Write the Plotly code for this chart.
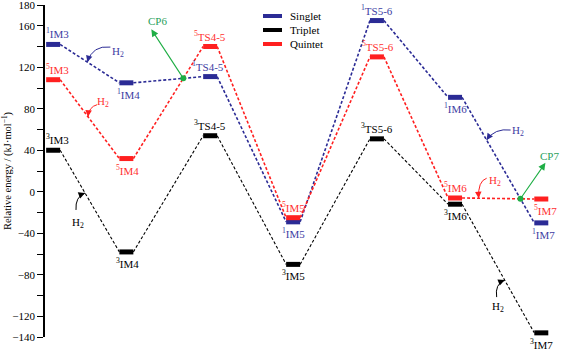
import plotly.graph_objects as go
import numpy as np

# ---------------- data ----------------
stages = ["IM3", "IM4", "TS4-5", "IM5", "TS5-6", "IM6", "IM7"]
stage_x = [0.0, 0.9, 1.93, 2.95, 3.98, 4.94, 6.0]   # reaction coordinate positions
singlet = [142, 105, 111, -29, 165, 91, -30]
triplet = [40, -58, 54, -70, 51, -12, -136]
quintet = [108, 32, 140, -25, 130, -6, -7]
y_labels = [180, 160, 120, 80, 40, 0, -40, -80, -120, -140]

# ---------------- layout geometry ----------------
W, H = 564, 349
ML, MR, MT, MB = 45, 4, 5, 12
XR = [-0.1, 6.23]
YR = [-140, 180]
PW, PH = W - ML - MR, H - MT - MB
PX = PW / (XR[1] - XR[0])   # px per x unit
PY = PH / (YR[1] - YR[0])   # px per y unit
HW = 7 / PX                 # bar half width

BLUE = "#2b2b95"
BLUE_T = "#3d3da3"
RED = "#ff2020"
RED_T = "#ff3030"
BLACK = "#000000"
GREEN = "#1fae45"
GREEN_T = "#2a9f5c"
FONT = "Liberation Serif"

series = [
    ("Singlet", singlet, BLUE, BLUE_T, 1, 1.6),
    ("Triplet", triplet, BLACK, BLACK, 3, 1.1),
    ("Quintet", quintet, RED, RED_T, 5, 1.6),
]

fig = go.Figure()


def off(x, y, dxp, dyp):
    return x + dxp / PX, y - dyp / PY


def seg_point(vals, i, t):
    x0, y0 = stage_x[i] + HW, vals[i]
    x1, y1 = stage_x[i + 1] - HW, vals[i + 1]
    return x0 + (x1 - x0) * t, y0 + (y1 - y0) * t


def intersect(va, vb, i):
    xa0, ya0 = stage_x[i] + HW, va[i]
    xa1, ya1 = stage_x[i + 1] - HW, va[i + 1]
    yb0, yb1 = vb[i], vb[i + 1]
    d = (ya1 - ya0) - (yb1 - yb0)
    t = (yb0 - ya0) / d
    return xa0 + (xa1 - xa0) * t, ya0 + (ya1 - ya0) * t


for name, vals, col, tcol, mult, lw in series:
    cx, cy = [], []
    for i in range(len(vals) - 1):
        cx += [stage_x[i] + HW, stage_x[i + 1] - HW, None]
        cy += [vals[i], vals[i + 1], None]
    fig.add_trace(go.Scatter(x=cx, y=cy, mode="lines",
                             line=dict(color=col, width=lw, dash="3px,2px"),
                             hoverinfo="skip", showlegend=False))
    bx, by = [], []
    for xs, v in zip(stage_x, vals):
        bx += [xs - HW, xs + HW, None]
        by += [v, v, None]
    fig.add_trace(go.Scatter(x=bx, y=by, mode="lines",
                             line=dict(color=col, width=5),
                             hoverinfo="skip", showlegend=False))

# ---------------- level labels ----------------
label_pos = {
    1: ["above", "below", "above", "below", "above", "below", "below"],
    3: ["above", "below", "above", "below", "above", "below", "below"],
    5: ["above", "below", "above", "above", "above", "above", "below"],
}
label_dx = {
    1: [4, 2, -2, 0, 0, 0, 2],
    3: [4, 1, 0, 0, 0, 0, 0],
    5: [4, 1, 0, 0, 1, 0, 4],
}
for name, vals, col, tcol, mult, lw in series:
    for i, (st, v) in enumerate(zip(stages, vals)):
        pos = label_pos[mult][i]
        fig.add_annotation(
            x=stage_x[i], y=v, xref="x", yref="y",
            text=f"<sup>{mult}</sup>{st}", showarrow=False,
            font=dict(family=FONT, size=11, color=tcol),
            xanchor="center", yanchor="bottom" if pos == "above" else "top",
            yshift=2 if pos == "above" else -2, xshift=label_dx[mult][i])

# ---------------- H2 curved arrows ----------------
h2 = [
    (singlet, 0, 0.46, (23, -15), (5, -17), (31, -10), BLUE, BLUE_T),
    (quintet, 0, 0.47, (9, -12), (1, -10), (15, -15), RED, RED_T),
    (triplet, 0, 0.42, (-9, 17), (-10, 4), (-7, 30), BLACK, BLACK),
    (singlet, 5, 0.34, (24, -10), (8, -12), (31, -9), BLUE, BLUE_T),
    (quintet, 5, 0.23, (8, -20), (-1, -17), (16, -17), RED, RED_T),
    (triplet, 5, 0.59, (-8, 17), (-10, 4), (-7, 27), BLACK, BLACK),
]
for vals, seg, t, so, co, lo, col, tcol in h2:
    tx, ty = seg_point(vals, seg, t)
    sx, sy = off(tx, ty, *so)
    qx, qy = off(tx, ty, *co)
    fig.add_shape(type="path", xref="x", yref="y",
                  path=f"M {sx},{sy} Q {qx},{qy} {tx},{ty}",
                  line=dict(color=col, width=1))
    d = np.array(co, dtype=float)
    d = d / np.linalg.norm(d) * 6
    fig.add_annotation(x=tx, y=ty, xref="x", yref="y", ax=d[0], ay=d[1],
                       text="", showarrow=True, arrowhead=2, arrowsize=1,
                       arrowwidth=1.3, arrowcolor=col)
    lx, ly = off(tx, ty, *lo)
    fig.add_annotation(x=lx, y=ly, xref="x", yref="y", showarrow=False,
                       text="H<sub>2</sub>",
                       font=dict(family=FONT, size=11, color=tcol))

# ---------------- crossing points ----------------
cps = [
    ("CP6", intersect(singlet, quintet, 1), (-32, -49), (-26, -57)),
    ("CP7", intersect(quintet, singlet, 5), (25, -36), (29, -43)),
]
fig.add_trace(go.Scatter(x=[c[1][0] for c in cps], y=[c[1][1] for c in cps],
                         mode="markers", marker=dict(color=GREEN, size=6),
                         hoverinfo="skip", showlegend=False))
for name, (px_, py_), tip, lab in cps:
    tx, ty = off(px_, py_, *tip)
    fig.add_annotation(x=tx, y=ty, xref="x", yref="y",
                       ax=-tip[0], ay=-tip[1], text="", showarrow=True,
                       arrowhead=2, arrowsize=1.3, arrowwidth=1.1,
                       arrowcolor=GREEN)
    lx, ly = off(px_, py_, *lab)
    fig.add_annotation(x=lx, y=ly, xref="x", yref="y", text=name,
                       showarrow=False,
                       font=dict(family=FONT, size=11, color=GREEN_T))

# ---------------- legend (manual) ----------------
def paper(px_, py_):
    return (px_ - ML) / PW, (H - MB - py_) / PH

for k, (name, vals, col, tcol, mult, lw) in enumerate(series):
    yy = 16 + k * 14
    x0, y0 = paper(263, yy)
    x1, _ = paper(282, yy)
    fig.add_shape(type="line", xref="paper", yref="paper",
                  x0=x0, x1=x1, y0=y0, y1=y0, line=dict(color=col, width=4))
    tx, ty = paper(288, yy)
    fig.add_annotation(x=tx, y=ty, xref="paper", yref="paper", text=name,
                       showarrow=False, xanchor="left", yanchor="middle",
                       font=dict(family=FONT, size=11, color="black"))

fig.update_layout(
    width=W, height=H,
    margin=dict(l=ML, r=MR, t=MT, b=MB, autoexpand=False),
    plot_bgcolor="white", paper_bgcolor="white",
    showlegend=False,
    xaxis=dict(range=XR, visible=False, fixedrange=True, automargin=False),
    yaxis=dict(range=YR, tickmode="array", tickvals=y_labels,
               ticktext=[str(v).replace("-", "−") for v in y_labels],
               ticklabeloverflow="allow", automargin=False,
               ticks="outside", ticklen=6, tickwidth=1, tickcolor="black",
               minor=dict(tick0=0, dtick=20, ticks="outside", ticklen=6,
                          tickwidth=1, tickcolor="black", showgrid=False),
               showline=True, linecolor="black", linewidth=1.5,
               showgrid=False, zeroline=False, fixedrange=True,
               tickfont=dict(family=FONT, size=11, color="black"),
               title=dict(text="Relative energy / (kJ·mol<sup>−1</sup>)",
                          font=dict(family=FONT, size=10.5, color="black"),
                          standoff=8)),
)

fig.write_html("out.html", config={"displayModeBar": False},
               post_script="document.body.style.margin='0';")
